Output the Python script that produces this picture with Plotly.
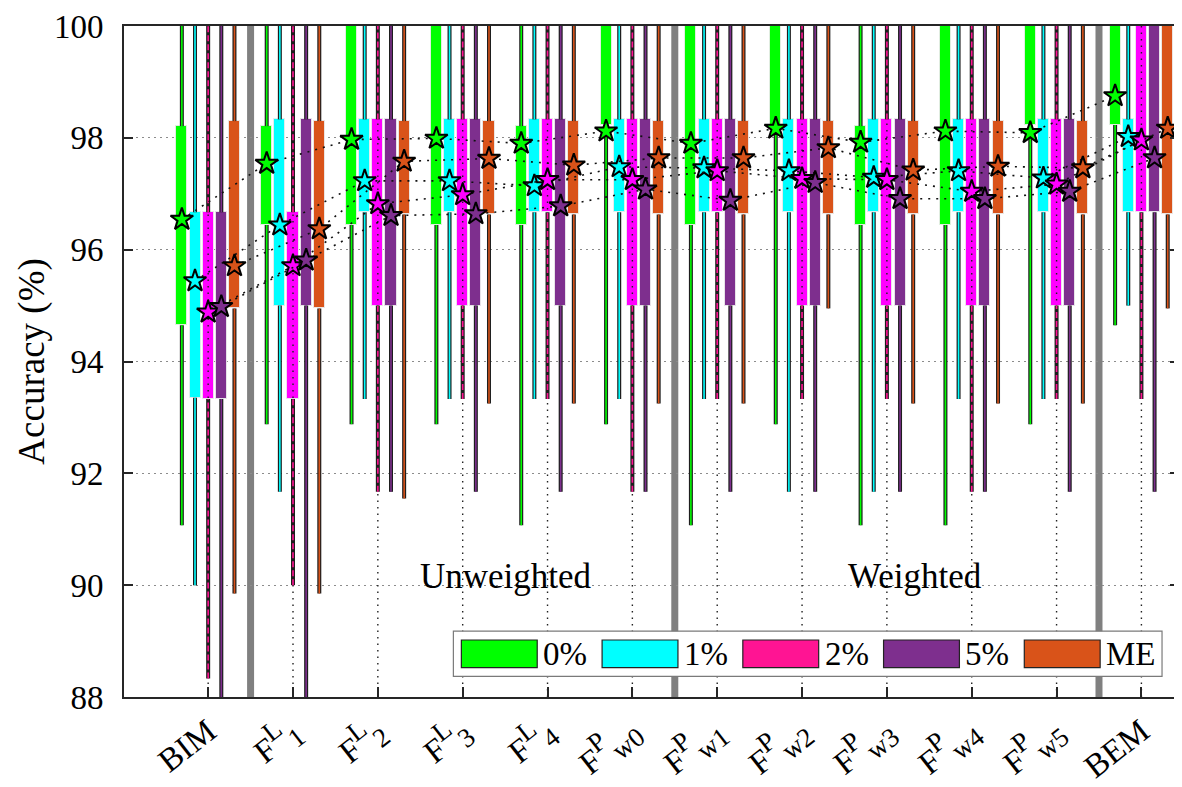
import plotly.graph_objects as go

SUP = '<sup><span style="font-size:27px">{}</span></sup>'
SUB = '<sub><span style="font-size:27px">{}</span></sub>'
groups = ["BIM",
          "F" + SUP.format("L") + SUB.format("1"), "F" + SUP.format("L") + SUB.format("2"),
          "F" + SUP.format("L") + SUB.format("3"), "F" + SUP.format("L") + SUB.format("4"),
          "F" + SUP.format("P") + SUB.format("w0"), "F" + SUP.format("P") + SUB.format("w1"),
          "F" + SUP.format("P") + SUB.format("w2"), "F" + SUP.format("P") + SUB.format("w3"),
          "F" + SUP.format("P") + SUB.format("w4"), "F" + SUP.format("P") + SUB.format("w5"),
          "BEM"]
series = ["0%", "1%", "2%", "5%", "ME"]
box_colors = ["#00FF00", "#00FFFF", "#FF00FF", "#7E2F8E", "#D95319"]
line_colors = ["#00FF00", "#00FFFF", "#FF1493", "#7E2F8E", "#D95319"]

# per series: box bottom (q1), box top (q3), lower whisker, upper whisker, mean
q1_0 = [94.65, 96.44, 96.44, 96.44, 96.44, 98.23, 96.44, 98.23, 96.44, 96.44, 98.23, 98.23]
q3_0 = [98.21, 98.21, 100, 100, 98.21, 100, 100, 100, 98.21, 100, 100, 100]
lo_0 = [91.07, 92.88, 92.88, 92.88, 91.07, 92.88, 91.07, 92.88, 91.07, 91.07, 92.88, 94.65]
mean_0 = [96.54, 97.54, 97.97, 97.99, 97.90, 98.12, 97.90, 98.17, 97.92, 98.12, 98.09, 98.75]

q1_1 = [93.35, 95.0, 96.67, 96.67, 96.67, 96.67, 96.67, 96.67, 96.67, 96.67, 96.67, 96.67]
q3_1 = [96.67, 98.33, 98.33, 98.33, 98.33, 98.33, 98.33, 98.33, 98.33, 98.33, 98.33, 98.33]
lo_1 = [90.0, 91.67, 93.33, 93.33, 93.33, 93.33, 93.33, 91.67, 91.67, 93.33, 93.33, 95.0]
mean_1 = [95.44, 96.44, 97.23, 97.23, 97.14, 97.48, 97.46, 97.41, 97.29, 97.41, 97.28, 98.02]

q1_2 = [93.33, 93.33, 95.0, 95.0, 96.67, 95.0, 96.67, 95.0, 95.0, 95.0, 95.0, 96.67]
q3_2 = [96.67, 96.67, 98.33, 98.33, 98.33, 98.33, 98.33, 98.33, 98.33, 98.33, 98.33, 100]
lo_2 = [88.33, 90.0, 91.67, 93.33, 93.33, 91.67, 93.33, 93.33, 93.33, 91.67, 93.33, 93.33]
mean_2 = [94.88, 95.71, 96.82, 96.98, 97.25, 97.25, 97.41, 97.27, 97.25, 97.04, 97.17, 97.96]

q1_5 = [93.33, 95.0, 95.0, 95.0, 95.0, 95.0, 95.0, 95.0, 95.0, 95.0, 95.0, 96.67]
q3_5 = [96.67, 98.33, 98.33, 98.33, 98.33, 98.33, 98.33, 98.33, 98.33, 98.33, 98.33, 100]
lo_5 = [86.67, 86.67, 91.67, 91.67, 91.67, 91.67, 91.67, 91.67, 91.67, 91.67, 91.67, 91.67]
mean_5 = [94.98, 95.81, 96.61, 96.64, 96.78, 97.08, 96.88, 97.20, 96.91, 96.91, 97.04, 97.64]

q1_me = [94.95, 94.95, 96.63, 96.63, 96.63, 96.63, 96.63, 96.63, 96.63, 96.63, 96.63, 96.63]
q3_me = [98.30, 98.30, 98.30, 98.30, 98.30, 98.30, 98.30, 98.30, 98.30, 98.30, 98.30, 100]
lo_me = [89.85, 89.85, 91.55, 93.25, 93.25, 93.25, 93.25, 94.95, 93.25, 93.25, 93.25, 94.95]
mean_me = [95.71, 96.37, 97.58, 97.63, 97.51, 97.64, 97.64, 97.82, 97.42, 97.49, 97.46, 98.17]

hi_all = [100.0] * 12

Q1 = [q1_0, q1_1, q1_2, q1_5, q1_me]
Q3 = [q3_0, q3_1, q3_2, q3_5, q3_me]
LO = [lo_0, lo_1, lo_2, lo_5, lo_me]
MEAN = [mean_0, mean_1, mean_2, mean_5, mean_me]

offsets = [-0.31, -0.155, 0.0, 0.155, 0.31]
box_w = 0.13
pos = list(range(len(groups)))
SERIF = "Times New Roman, Liberation Serif, DejaVu Serif, serif"

fig = go.Figure()

# boxes
for s in range(5):
    fig.add_trace(go.Bar(
        x=[p + offsets[s] for p in pos],
        y=[Q3[s][i] - Q1[s][i] for i in pos],
        base=Q1[s], width=box_w,
        marker=dict(color=box_colors[s], line=dict(color="rgba(235,235,235,0.9)", width=1)),
        showlegend=False, hoverinfo="skip"))

# vertical dotted grid at group positions
gx, gy = [], []
for p in pos:
    gx += [p, p, None]
    gy += [88, 100, None]
fig.add_trace(go.Scatter(x=gx, y=gy, mode="lines",
                         line=dict(color="#222222", width=1.4, dash="1.5px,5px"),
                         showlegend=False, hoverinfo="skip"))

# whiskers
for s in range(5):
    wx, wy = [], []
    for i in pos:
        x = i + offsets[s]
        wx += [x, x, None]
        wy += [LO[s][i], Q1[s][i], None]
        if Q3[s][i] < hi_all[i]:
            wx += [x, x, None]
            wy += [Q3[s][i], hi_all[i], None]
    fig.add_trace(go.Scatter(x=wx, y=wy, mode="lines",
                             line=dict(color="#1e1e1e", width=4),
                             showlegend=False, hoverinfo="skip"))
    fig.add_trace(go.Scatter(x=wx, y=wy, mode="lines",
                             line=dict(color=line_colors[s], width=1.6,
                                       dash="6px,3px" if s == 2 else "solid"),
                             showlegend=False, hoverinfo="skip"))

# means: dotted connecting lines and stars
for s in range(5):
    fig.add_trace(go.Scatter(
        x=[p + offsets[s] for p in pos], y=MEAN[s], mode="lines+markers",
        line=dict(color="#111111", width=1.6, dash="2px,6px"),
        marker=dict(symbol="star", size=17, color=box_colors[s],
                    line=dict(color="black", width=2)),
        showlegend=False, hoverinfo="skip"))

# page body has an 8px margin: figure placed at (8, 8)
OFF = 8
W, H = 1174, 779
L, R, T, B = 116, 1, 11, 85
pw, ph = W - L - R, H - T - B


def px_x(px):
    return (px - OFF - L) / pw


def px_y(py):
    return (H - B - (py - OFF)) / ph


shapes = []
for sx in [0.5, 5.5, 10.5]:
    shapes.append(dict(type="line", xref="x", yref="paper", x0=sx, x1=sx, y0=0, y1=1,
                       line=dict(color="#808080", width=7), layer="between"))

# legend drawn manually
shapes.append(dict(type="rect", xref="paper", yref="paper",
                   x0=px_x(454), x1=px_x(1164), y0=px_y(681), y1=px_y(635),
                   fillcolor="white", line=dict(color="#7a7a7a", width=1.2), layer="above"))
annotations = []
for s in range(5):
    x0 = 462 + 141 * s
    shapes.append(dict(type="rect", xref="paper", yref="paper",
                       x0=px_x(x0), x1=px_x(x0 + 76), y0=px_y(672), y1=px_y(644),
                       fillcolor=line_colors[s] if s == 2 else box_colors[s],
                       line=dict(color="#222222", width=1.2), layer="above"))
    annotations.append(dict(xref="paper", yref="paper", x=px_x(x0 + 80), y=px_y(658),
                            text=series[s], showarrow=False, xanchor="left", yanchor="middle",
                            font=dict(family=SERIF, size=33, color="black")))

annotations.append(dict(x=3.51, y=90.15, xref="x", yref="y", text="Unweighted", showarrow=False,
                        font=dict(family=SERIF, size=35, color="black")))
annotations.append(dict(x=8.33, y=90.15, xref="x", yref="y", text="Weighted", showarrow=False,
                        font=dict(family=SERIF, size=35, color="black")))
annotations.append(dict(xref="paper", yref="paper", x=px_x(31), y=0.5, text="Accuracy (%)",
                        textangle=-90, showarrow=False, xanchor="center", yanchor="middle",
                        font=dict(family=SERIF, size=37, color="black")))

fig.update_layout(
    width=W, height=H,
    margin=dict(l=L, r=R, t=T, b=B),
    paper_bgcolor="white", plot_bgcolor="white",
    barmode="overlay", bargap=0,
    font=dict(family=SERIF, color="black"),
    shapes=shapes, annotations=annotations,
    showlegend=False,
)
fig.update_xaxes(
    range=[-0.992, 11.443], tickmode="array", tickvals=pos, ticktext=groups,
    tickangle=-38, ticks="inside", ticklen=10, tickwidth=2, tickcolor="#262626",
    showline=True, linecolor="#262626", linewidth=2, mirror=True,
    showgrid=False, zeroline=False, ticklabeloverflow="allow",
    tickfont=dict(family=SERIF, size=33, color="black"),
)
fig.update_yaxes(
    range=[88, 100], tickvals=[88, 90, 92, 94, 96, 98, 100],
    ticks="inside", ticklen=9, tickwidth=2, tickcolor="#262626",
    showline=True, linecolor="#262626", linewidth=2, mirror="ticks",
    showgrid=True, gridcolor="#8c8c8c", gridwidth=1, griddash="2px,4px",
    zeroline=False, ticklabelstandoff=12, ticklabeloverflow="allow",
    tickfont=dict(family=SERIF, size=33, color="black"),
)

fig.write_html("out.html")
